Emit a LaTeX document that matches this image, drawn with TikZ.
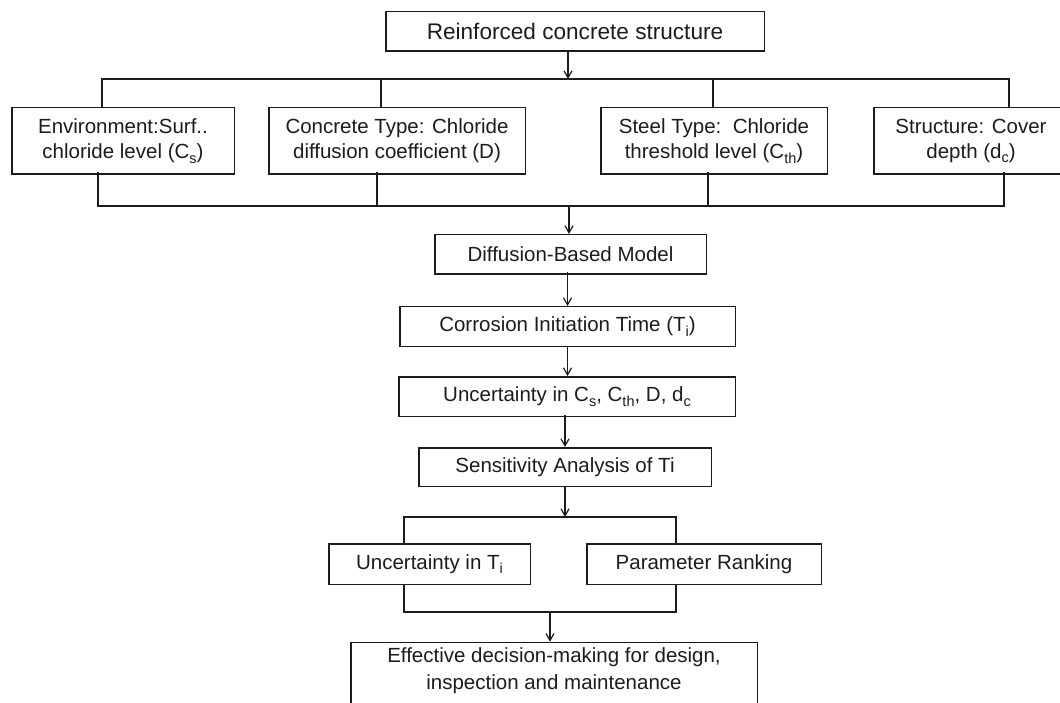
\documentclass[tikz,border=0pt]{standalone}
\usepackage{fontspec}
\setmainfont{Liberation Sans}
\usetikzlibrary{arrows.meta}
\definecolor{ink}{HTML}{1C1C1C}
\newcommand\sbs[1]{\raisebox{-4.5pt}{\fontsize{14.5}{14.5}\selectfont #1}}
\begin{document}
\begin{tikzpicture}[x=1pt,y=-1pt,
  box/.style={draw=ink, line width=1.5pt, text=ink, align=center, inner sep=0pt,
              font=\fontsize{20.5}{25}\selectfont},
  conn/.style={draw=ink, line width=1.2pt},
  arr/.style={conn, -{Straight Barb[length=7pt,width=8pt,line width=1.2pt]}}]
\useasboundingbox (0,0) rectangle (1060,703);

% nodes
\node[box, minimum width=378.5, minimum height=39.5, font=\fontsize{22.6}{26}\selectfont] (top) at (575,31.5) {Reinforced concrete structure};
\node[box, minimum width=222.5, minimum height=66.5] (env) at (123,141) {Environment:Surf..\\chloride level (C\sbs{s})};
\node[box, minimum width=256.5, minimum height=66.5] (conc) at (397,141) {Concrete Type: Chloride\\diffusion coefficient (D)};
\node[box, minimum width=226.5, minimum height=66.5] (steel) at (714,141) {Steel Type:\ \ Chloride\\threshold level (C\sbs{th})};
\node[box, minimum width=194.5, minimum height=66.5] (struct) at (971,141) {Structure: Cover\\depth (d\sbs{c})};
\node[box, minimum width=271.5, minimum height=39.5] (diff) at (570.5,254.5) {Diffusion-Based Model};
\node[box, minimum width=335.5, minimum height=39.5] (corr) at (567.5,326.5) {Corrosion Initiation Time (T\sbs{i})};
\node[box, minimum width=336.5, minimum height=39.5] (unc) at (567,396.5) {Uncertainty in C\sbs{s}, C\sbs{th}, D, d\sbs{c}};
\node[box, minimum width=292.5, minimum height=38.5] (sens) at (565,467) {Sensitivity Analysis of Ti};
\node[box, minimum width=201.5, minimum height=40.5] (uti) at (429.5,564) {Uncertainty in T\sbs{i}};
\node[box, minimum width=234.5, minimum height=40.5] (rank) at (704,564) {Parameter Ranking};
\node[box, minimum width=406.5, anchor=north, font=\fontsize{20.5}{27}\selectfont] (dec) at (554,641.7)
  {\rule{0pt}{20.3pt}Effective decision-making for design,\\inspection and maintenance\rule[-30pt]{0pt}{0pt}};

% top bus
\coordinate (tj) at (568,79);
\coordinate (t1) at (102,79);
\coordinate (t2) at (381,79);
\coordinate (t3) at (713,79);
\coordinate (t4) at (1009,79);
\draw[arr] (top.south -| tj) -- (tj);
\draw[conn] (t1 |- env.north) -- (t1) -- (t4) -- (t4 |- struct.north);
\draw[conn] (t2) -- (t2 |- conc.north);
\draw[conn] (t3) -- (t3 |- steel.north);

% bottom bus
\coordinate (uj) at (569,206);
\coordinate (u1) at (98,206);
\coordinate (u2) at (377,206);
\coordinate (u3) at (708,206);
\coordinate (u4) at (1004,206);
\draw[conn] ([yshift=3]u1 |- env.south) -- (u1) -- (u4) -- ([yshift=3]u4 |- struct.south);
\draw[conn] ([yshift=3]u2 |- conc.south) -- (u2);
\draw[conn] ([yshift=3]u3 |- steel.south) -- (u3);
\draw[arr] (uj) -- (uj |- diff.north);

% chain
\draw[arr] ([yshift=3]diff.south -| corr.north) -- (corr.north);
\draw[arr] (corr.south) -- (corr.south |- unc.north);
\draw[arr] ([yshift=2]unc.south -| sens.north) -- (sens.north);

% sensitivity split
\coordinate (sj) at (565,517);
\coordinate (v1) at (404,517);
\coordinate (v2) at (676,517);
\draw[arr] (sens.south -| sj) -- (sj);
\draw[conn] (v1 |- uti.north) -- (v1) -- (v2) -- (v2 |- rank.north);

% merge
\coordinate (wj) at (550,612);
\coordinate (w1) at (404,612);
\coordinate (w2) at (676,612);
\draw[conn] (w1 |- uti.south) -- (w1) -- (w2) -- (w2 |- rank.south);
\draw[arr] (wj) -- (wj |- dec.north);
\end{tikzpicture}
\end{document}
